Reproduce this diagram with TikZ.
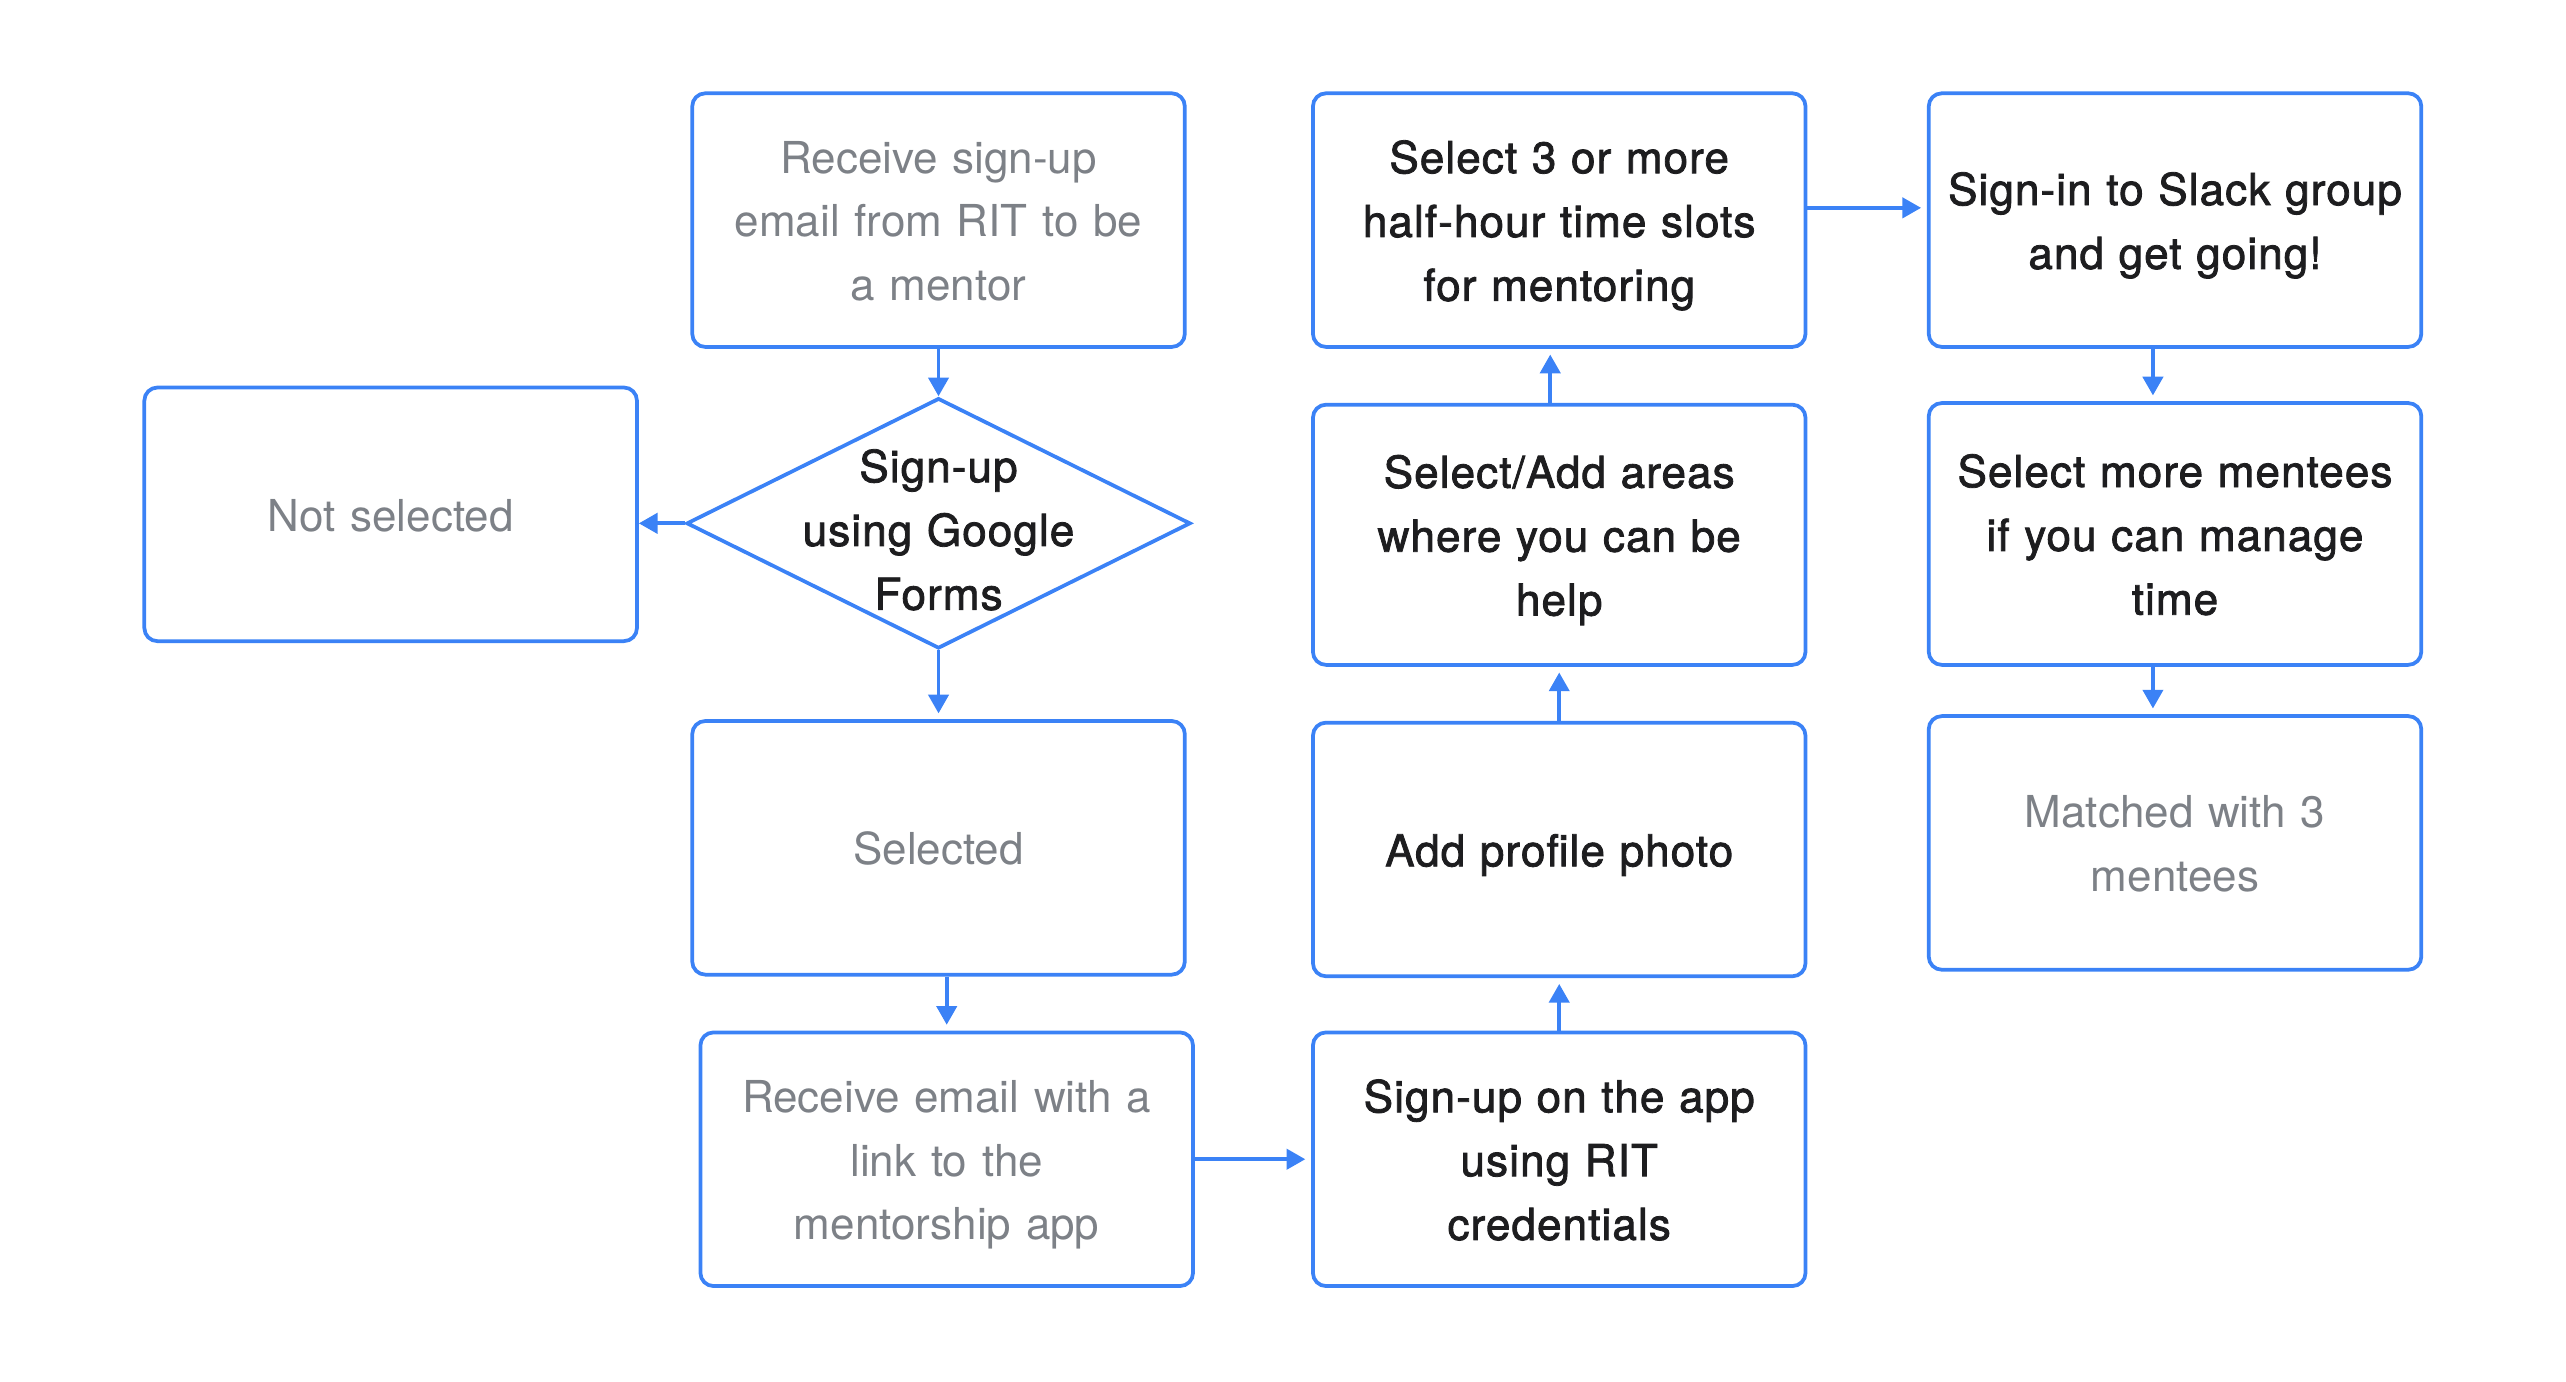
\documentclass[tikz,border=0pt]{standalone}
\usepackage{fontspec}
\setmainfont{TeX Gyre Heros}
\newfontfamily\mediumfont[FakeBold=1.8,LetterSpace=2.5]{TeX Gyre Heros}
\usetikzlibrary{arrows.meta,positioning,shapes.geometric}
\definecolor{flowblue}{RGB}{59,130,246}
\definecolor{softgrey}{RGB}{125,129,135}
\definecolor{inkgrey}{RGB}{29,29,31}

\begin{document}
\begin{tikzpicture}[->,>={Triangle[length=6.5pt,width=7pt]},shorten >=2pt,flowblue,line width=1.3pt]
	\tikzstyle{lines}=[text width=6cm,align=center,execute at begin node={\rule{0pt}{18.4pt}},execute at end node={\strut}]
	\tikzstyle{box}=[lines,draw=flowblue,rounded corners=0.16cm,minimum width=6.02cm,minimum height=3.1cm,inner sep=0pt]
	\tikzstyle{pale}=[text=softgrey,font=\fontsize{15.3}{22.2}\selectfont]
	\tikzstyle{dark}=[text=inkgrey,font=\mediumfont\fontsize{15.3}{22.2}\selectfont]
	\tikzstyle{decision}=[diamond,draw=flowblue,minimum width=6.16cm,minimum height=3.06cm,inner sep=0pt]

	\useasboundingbox (0,0) rectangle (31.36,-16.88);

	% left part: sign-up by mail
	\node[box,pale] (rsu) at (11.47,-2.69) {Receive sign-up\\email from RIT to be\\a mentor};
	\node[decision] (form) [below=0.58 of rsu] {};
	\node[lines,dark,inner sep=0pt] (formtext) at ([yshift=-0.07cm]form.center) {Sign-up\\using Google\\Forms};
	\node[box,pale] (notsel) [left=0.56 of form,yshift=0.11cm] {Not selected};
	\node[box,pale] (sel) [below=0.84 of form] {Selected};
	\node[box,pale] (link) [below=0.66 of sel,xshift=0.1cm] {Receive email with a\\link to the\\mentorship app};

	% middle part: the app
	\node[box,dark] (app) [right=1.42 of link] {Sign-up on the app\\using RIT\\credentials};
	\node[box,dark] (photo) [above=0.64 of app] {Add profile photo};
	\node[box,dark,minimum height=3.18cm] (areas) [above=0.66 of photo] {Select/Add areas\\where you can be\\help};
	\node[box,dark] (slots) [above=0.66 of areas] {Select 3 or more\\half-hour time slots\\for mentoring};

	% right part
	\node[box,dark] (slack) [right=1.46 of slots] {Sign-in to Slack group\\and get going!};
	\node[box,dark,minimum height=3.2cm] (more) [below=0.64 of slack] {Select more mentees\\if you can manage\\time};
	\node[box,pale] (matched) [below=0.58 of more] {Matched with 3\\mentees};

	\draw[shorten >=0pt] (rsu.south) -- (form.north);
	\draw[shorten >=0pt] (form.west) -- (form.west -| notsel.east);
	\draw (form.south) -- (sel.north);
	\draw (sel.south -| link.north) -- (link.north);
	\draw (link.east) -- (app.west);
	\draw (app.north) -- (photo.south);
	\draw (photo.north) -- (areas.south);
	\draw ([xshift=-0.11cm]areas.north) -- ([xshift=-0.11cm]slots.south);
	\draw ([yshift=0.15cm]slots.east) -- ([yshift=0.15cm]slack.west);
	\draw ([xshift=-0.27cm]slack.south) -- ([xshift=-0.27cm]more.north);
	\draw ([xshift=-0.27cm]more.south) -- ([xshift=-0.27cm]matched.north);
\end{tikzpicture}
\end{document}
